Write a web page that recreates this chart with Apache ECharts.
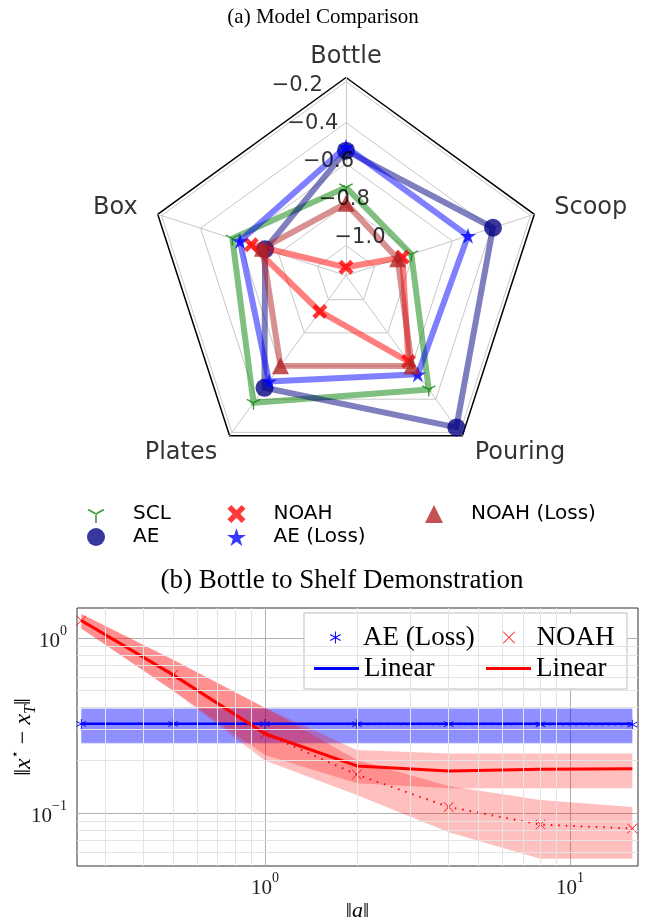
<!DOCTYPE html>
<html>
<head>
<meta charset="utf-8">
<script src="https://cdn.jsdelivr.net/npm/echarts@6/dist/echarts.min.js"></script>
<style>
  html, body { margin: 0; padding: 0; background: #fff; }
  #chart { width: 646px; height: 924px; }
</style>
</head>
<body>
<div id="chart"></div>
<script>
// ---------- (a) Model comparison radar ----------
// axes listed counterclockwise, starting from the top
const RADAR_AXES = ['Bottle', 'Box', 'Plates', 'Pouring', 'Scoop'];
const RADAR_TICKS = [-1.0, -0.8, -0.6, -0.4, -0.2];
const SCL_SCORES = [-0.716, -0.563, -0.378, -0.459, -0.811];
const AE_SCORES = [-0.537, -0.731, -0.469, -0.230, -0.392];
const NOAH_SCORES = [-1.106, -0.660, -0.929, -0.627, -0.857];
const AE_LOSS_SCORES = [-0.518, -0.602, -0.507, -0.550, -0.520];
const NOAH_LOSS_SCORES = [-0.794, -0.717, -0.602, -0.600, -0.881];

// ---------- (b) Bottle to shelf: error against action norm ----------
const ACTION_NORM = [0.25, 0.5, 1, 2, 4, 8, 16];
const AE_LOSS_ERR = [0.323, 0.323, 0.323, 0.322, 0.322, 0.321, 0.320];
const AE_LOSS_HI = [0.397, 0.397, 0.397, 0.397, 0.397, 0.397, 0.397];
const AE_LOSS_LO = [0.252, 0.252, 0.252, 0.252, 0.252, 0.252, 0.252];
const AE_LIN_ERR = [0.324, 0.324, 0.324, 0.324, 0.324, 0.324, 0.324];
const AE_LIN_HI = [0.393, 0.393, 0.393, 0.393, 0.393, 0.393, 0.393];
const AE_LIN_LO = [0.250, 0.250, 0.250, 0.250, 0.250, 0.250, 0.250];
const NOAH_ERR = [1.256, 0.615, 0.284, 0.166, 0.1086, 0.0861, 0.0818];
const NOAH_HI = [1.37, 0.75, 0.40, 0.201, 0.143, 0.119, 0.1086];
const NOAH_LO = [1.13, 0.50, 0.20, 0.127, 0.078, 0.055, 0.055];
const NOAH_LIN_ERR = [1.256, 0.615, 0.284, 0.186, 0.174, 0.178, 0.179];
const NOAH_LIN_HI = [1.37, 0.75, 0.40, 0.229, 0.219, 0.219, 0.219];
const NOAH_LIN_LO = [1.13, 0.50, 0.215, 0.148, 0.139, 0.139, 0.139];
const X_MINOR = [0.3, 0.4, 0.5, 0.6, 0.7, 0.8, 0.9, 2, 3, 4, 5, 6, 7, 8, 9];
const Y_MINOR = [0.06, 0.07, 0.08, 0.09, 0.2, 0.3, 0.4, 0.5, 0.6, 0.7, 0.8, 0.9];

// radial range of the radar and its on-screen placement
const R_MIN = -1.146, R_MAX = -0.18;
const RADAR_CENTER = [346, 275.5], RADAR_RADIUS = 198;

// marker outlines
const SYM_TRI_DOWN = 'path://M10,0 L10.01,0 Z M9.1,10 L10.9,10 L10.9,20 L9.1,20 Z M10.45,9.22 L1.79,4.22 L0.89,5.78 L9.55,10.78 Z M9.55,9.22 L18.21,4.22 L19.11,5.78 L10.45,10.78 Z';
const SYM_STAR = 'path://M10,0 L12.25,6.91 L19.51,6.91 L13.63,11.18 L15.88,18.09 L10,13.82 L4.12,18.09 L6.37,11.18 L0.49,6.91 L7.75,6.91 Z';
const SYM_FAT_X = 'path://M4.3,0 L10,5.7 L15.7,0 L20,4.3 L14.3,10 L20,15.7 L15.7,20 L10,14.3 L4.3,20 L0,15.7 L5.7,10 L0,4.3 Z';
const SYM_TRIANGLE = 'path://M10,0 L20,20 L0,20 Z';
const SYM_ASTERISK = 'path://M9.2,0 L10.8,0 L10.8,20 L9.2,20 Z M1.74,4.31 L19.06,14.31 L18.26,15.69 L0.94,5.69 Z M0.94,14.31 L18.26,4.31 L19.06,5.69 L1.74,15.69 Z';
const SYM_THIN_X = 'path://M0,0.9 L0.9,0 L10,9.1 L19.1,0 L20,0.9 L10.9,10 L20,19.1 L19.1,20 L10,10.9 L0.9,20 L0,19.1 L9.1,10 Z';

const SANS = 'DejaVu Sans';
const SERIF = 'Liberation Serif';

function minus(v) { return v.toFixed(1).replace('-', '\u2212'); }

function radarSeries(name, values, rgb, symbol, size, z) {
  return {
    type: 'radar', name: name, z: z, radarIndex: 0,
    symbol: symbol, symbolSize: size, symbolKeepAspect: true,
    lineStyle: { color: 'rgba(' + rgb + ',0.5)', width: 6, join: 'round' },
    itemStyle: { color: 'rgba(' + rgb + ',0.78)' },
    emphasis: { disabled: true },
    data: [{ value: values, name: name }]
  };
}

// axis names sit just outside the frame, aligned away from the centre
function axisNameItem(name, i) {
  const theta = (90 + i * 360 / RADAR_AXES.length) * Math.PI / 180;
  const c = Math.cos(theta), s = Math.sin(theta);
  let label;
  if (Math.abs(c) < 0.01) {
    label = { position: [0, -9], align: 'center', verticalAlign: 'bottom' };
  } else {
    const gap = 21;
    label = { position: [gap * c, -gap * s], align: c > 0 ? 'left' : 'right', verticalAlign: 'middle' };
  }
  label.formatter = name;
  return { value: [R_MAX, i * 360 / RADAR_AXES.length], label: label };
}

function bandSeries(name, upper, lower, color, z) {
  return {
    type: 'custom', name: name, z: z, silent: true,
    xAxisIndex: 0, yAxisIndex: 0,
    data: ACTION_NORM.map((x, i) => [x, lower[i], upper[i]]),
    encode: { x: 0, y: [1, 2] },
    renderItem: function (params, api) {
      if (params.dataIndex !== 0) return null;
      const top = ACTION_NORM.map((x, i) => api.coord([x, upper[i]]));
      const bottom = ACTION_NORM.map((x, i) => api.coord([x, lower[i]])).reverse();
      return { type: 'polygon', shape: { points: top.concat(bottom) }, style: { fill: color } };
    }
  };
}

function pairs(ys) { return ACTION_NORM.map((x, i) => [x, ys[i]]); }

function powerLabel(v) {
  const e = Math.log10(v);
  const r = Math.round(e);
  if (Math.abs(e - r) > 1e-6) return '';
  return '{b|10}{e|' + (r < 0 ? '\u2212' + (-r) : r) + '}';
}
const powerRich = {
  b: { fontFamily: SERIF, fontSize: 21, color: '#222', lineHeight: 28, verticalAlign: 'bottom' },
  e: { fontFamily: SERIF, fontSize: 14, color: '#222', lineHeight: 28, verticalAlign: 'top' }
};

const LEGEND_TEXT = {
  'AE (Loss), shelf': 'AE (Loss)',
  'NOAH, shelf': 'NOAH',
  'Linear (AE)': 'Linear',
  'Linear (NOAH)': 'Linear'
};

function radarLegend(left, items) {
  return {
    orient: 'vertical', left: left, top: 499, itemWidth: 64, itemHeight: 18, itemGap: 3,
    selectedMode: false, symbolKeepAspect: true, z: 10,
    textStyle: { fontFamily: SANS, fontSize: 20, color: '#000' },
    data: items
  };
}
function shelfLegend(left, top, h, item) {
  return {
    orient: 'horizontal', left: left, top: top, itemWidth: 45, itemHeight: h,
    selectedMode: false, symbolKeepAspect: true, z: 10,
    formatter: n => LEGEND_TEXT[n] || n,
    textStyle: { fontFamily: SERIF, fontSize: 27, color: '#000' },
    data: [item]
  };
}

const chart = echarts.init(document.getElementById('chart'), null, { renderer: 'canvas' });

const option = {
  animation: false,
  backgroundColor: '#fff',
  graphic: [
    { type: 'text', x: 323, y: 17, z: 10,
      style: { text: '(a) Model Comparison', font: '21px "Liberation Serif"', fill: '#000', textAlign: 'center', textVerticalAlign: 'middle' } },
    { type: 'text', x: 342, y: 581, z: 10,
      style: { text: '(b) Bottle to Shelf Demonstration', font: '27px "Liberation Serif"', fill: '#000', textAlign: 'center', textVerticalAlign: 'middle' } },
    { type: 'rect', z: 3, shape: { x: 304, y: 613, width: 323, height: 76 },
      style: { fill: '#fff', stroke: '#bdbdbd', lineWidth: 1 } }
  ],
  legend: [
    radarLegend(82, [{ name: 'SCL', icon: SYM_TRI_DOWN }, { name: 'AE', icon: 'circle' }]),
    radarLegend(222, [{ name: 'NOAH', icon: SYM_FAT_X }, { name: 'AE (Loss)', icon: SYM_STAR }]),
    radarLegend(420, [{ name: 'NOAH (Loss)', icon: SYM_TRIANGLE }]),
    shelfLegend(325, 619, 12, { name: 'AE (Loss), shelf', icon: SYM_ASTERISK }),
    shelfLegend(498, 619, 12, { name: 'NOAH, shelf', icon: SYM_THIN_X }),
    shelfLegend(309, 650, 3, { name: 'Linear (AE)', icon: 'rect' }),
    shelfLegend(481, 650, 3, { name: 'Linear (NOAH)', icon: 'rect' })
  ],
  radar: [{
    center: RADAR_CENTER, radius: RADAR_RADIUS, startAngle: 90, shape: 'polygon', splitNumber: 1,
    indicator: RADAR_AXES.map(n => ({ name: n, min: R_MIN, max: R_MAX })),
    axisName: { show: false },
    axisLine: { lineStyle: { color: '#c8c8c8', width: 1 } },
    splitLine: { lineStyle: { color: '#000', width: 1.5 } },
    splitArea: { show: false },
    axisTick: { show: false },
    axisLabel: { show: false }
  }],
  polar: [
    { center: RADAR_CENTER, radius: RADAR_RADIUS },
    { center: RADAR_CENTER, radius: RADAR_RADIUS }
  ],
  angleAxis: [
    { polarIndex: 0, type: 'value', min: 0, max: 360, startAngle: 112.5, show: false },
    { polarIndex: 1, type: 'value', min: 0, max: 360, startAngle: 90, clockwise: false, show: false }
  ],
  radiusAxis: [
    { polarIndex: 0, type: 'value', min: R_MIN, max: R_MAX, show: false },
    { polarIndex: 1, type: 'value', min: R_MIN, max: R_MAX, show: false }
  ],
  grid: { left: 77, right: 8, top: 608, bottom: 58, outerBoundsMode: 'none', containLabel: false,
    show: true, borderColor: '#333', borderWidth: 1, backgroundColor: 'transparent' },
  xAxis: {
    type: 'log', logBase: 10, min: 0.242, max: 16.7,
    name: '{n|\u2016}{i|a}{n|\u2016}', nameLocation: 'middle', nameGap: 34, nameMoveOverlap: false,
    nameTextStyle: { rich: {
      n: { fontFamily: SERIF, fontSize: 22, color: '#000' },
      i: { fontFamily: SERIF, fontSize: 22, fontStyle: 'italic', color: '#000' } } },
    axisLine: { show: false }, axisTick: { show: false },
    axisLabel: { formatter: powerLabel, rich: powerRich, margin: 5 },
    splitLine: { show: true, showMinLine: false, showMaxLine: false, lineStyle: { color: '#b0b0b0', width: 1 } }
  },
  yAxis: {
    type: 'log', logBase: 10, min: 0.05, max: 1.48,
    name: '{n|\u2016}{i|x}{s|\u22c6}{n| \u2212 }{i|x}{t|T}{n|\u2016}', nameLocation: 'middle', nameRotate: 90,
    nameGap: 38, nameMoveOverlap: false,
    nameTextStyle: { rich: {
      n: { fontFamily: SERIF, fontSize: 24, color: '#000', lineHeight: 30 },
      i: { fontFamily: SERIF, fontSize: 24, fontStyle: 'italic', color: '#000', lineHeight: 30 },
      s: { fontFamily: SANS, fontSize: 13, color: '#000', lineHeight: 30, verticalAlign: 'top' },
      t: { fontFamily: SERIF, fontSize: 16, fontStyle: 'italic', color: '#000', lineHeight: 22, verticalAlign: 'bottom' } } },
    axisLine: { show: false }, axisTick: { show: false },
    axisLabel: { formatter: powerLabel, rich: powerRich, margin: 10 },
    splitLine: { show: true, showMinLine: false, showMaxLine: false, lineStyle: { color: '#b0b0b0', width: 1 } }
  },
  series: [
    // radar rings at the labelled radii
    {
      type: 'radar', name: 'rings', radarIndex: 0, silent: true, z: 1, symbol: 'none',
      lineStyle: { color: '#c8c8c8', width: 1 },
      data: RADAR_TICKS.map(v => ({ value: RADAR_AXES.map(() => v), name: 'ring ' + v }))
    },
    radarSeries('SCL', SCL_SCORES, '0,128,0', SYM_TRI_DOWN, 14, 2),
    radarSeries('AE', AE_SCORES, '0,0,128', 'circle', 18, 3),
    radarSeries('NOAH', NOAH_SCORES, '255,0,0', SYM_FAT_X, 15, 4),
    radarSeries('AE (Loss)', AE_LOSS_SCORES, '0,0,255', SYM_STAR, 16, 5),
    radarSeries('NOAH (Loss)', NOAH_LOSS_SCORES, '178,34,34', SYM_TRIANGLE, 17, 6),
    // radial tick labels laid out along a ray 22.5 degrees left of Bottle
    {
      type: 'scatter', coordinateSystem: 'polar', polarIndex: 0, silent: true, z: 20,
      symbolSize: 0.1, itemStyle: { color: 'transparent' },
      data: RADAR_TICKS.map(v => [v, 0]),
      label: { show: true, position: [0, 0], align: 'left', verticalAlign: 'bottom',
        formatter: p => minus(p.value[0]), fontFamily: SANS, fontSize: 21, color: '#000' }
    },
    // axis names around the frame
    {
      type: 'scatter', coordinateSystem: 'polar', polarIndex: 1, silent: true, z: 20,
      symbolSize: 0.1, itemStyle: { color: 'transparent' },
      data: RADAR_AXES.map(axisNameItem),
      label: { show: true, fontFamily: SANS, fontSize: 24, color: '#000' }
    },
    // minor grid of the log-log panel
    {
      type: 'line', name: 'minor grid', data: [[1, 1]], showSymbol: false, silent: true, z: 0,
      lineStyle: { opacity: 0 },
      markLine: {
        silent: true, symbol: ['none', 'none'], label: { show: false }, animation: false,
        lineStyle: { color: '#e4e4e4', width: 1, type: 'solid' },
        data: X_MINOR.map(v => ({ xAxis: v })).concat(Y_MINOR.map(v => ({ yAxis: v })))
      }
    },
    bandSeries('AE (Loss) spread', AE_LOSS_HI, AE_LOSS_LO, 'rgba(0,0,255,0.25)', 1),
    bandSeries('Linear (AE) spread', AE_LIN_HI, AE_LIN_LO, 'rgba(0,0,255,0.25)', 1),
    bandSeries('NOAH spread', NOAH_HI, NOAH_LO, 'rgba(255,0,0,0.25)', 1),
    bandSeries('Linear (NOAH) spread', NOAH_LIN_HI, NOAH_LIN_LO, 'rgba(255,0,0,0.25)', 1),
    {
      type: 'line', name: 'Linear (AE)', data: pairs(AE_LIN_ERR), z: 2,
      symbol: 'none', color: '#0000ff', lineStyle: { color: '#0000ff', width: 2.5 }
    },
    {
      type: 'line', name: 'AE (Loss), shelf', data: pairs(AE_LOSS_ERR), z: 2,
      symbol: SYM_ASTERISK, symbolSize: 10, color: '#0000ff', itemStyle: { color: '#0000ff' },
      lineStyle: { color: '#0000ff', width: 2, type: [1.5, 5] }
    },
    {
      type: 'line', name: 'Linear (NOAH)', data: pairs(NOAH_LIN_ERR), z: 2,
      symbol: 'none', color: '#ff0000', lineStyle: { color: '#ff0000', width: 3 }
    },
    {
      type: 'line', name: 'NOAH, shelf', data: pairs(NOAH_ERR), z: 2,
      symbol: SYM_THIN_X, symbolSize: 10, color: '#ff0000', itemStyle: { color: '#ff0000' },
      lineStyle: { color: '#ff0000', width: 2, type: [1.5, 6] }
    }
  ]
};

chart.setOption(option);
</script>
</body>
</html>
